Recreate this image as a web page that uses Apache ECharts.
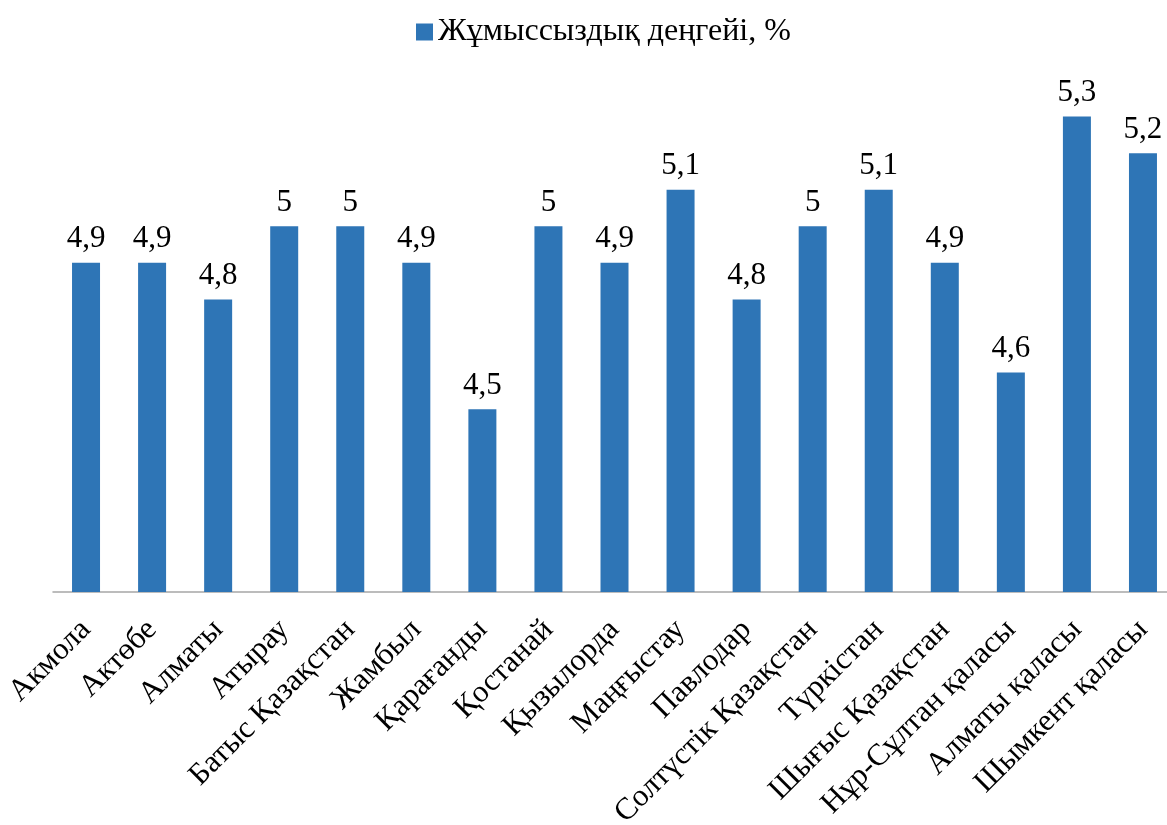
<!DOCTYPE html>
<html>
<head>
<meta charset="utf-8">
<script src="https://cdn.jsdelivr.net/npm/echarts@6/dist/echarts.min.js"></script>
<style>
  html, body { margin: 0; padding: 0; background: #fff; }
  #main { width: 1167px; height: 825px; }
</style>
</head>
<body>
<div id="main"></div>
<script>
const regions = [
  "Акмола", "Актөбе", "Алматы", "Атырау", "Батыс Қазақстан", "Жамбыл",
  "Қарағанды", "Қостанай", "Қызылорда", "Маңғыстау", "Павлодар",
  "Солтүстік Қазақстан", "Түркістан", "Шығыс Қазақстан",
  "Нұр-Сұлтан қаласы", "Алматы қаласы", "Шымкент қаласы"
];
const unemployment = [4.9, 4.9, 4.8, 5, 5, 4.9, 4.5, 5, 4.9, 5.1, 4.8, 5, 5.1, 4.9, 4.6, 5.3, 5.2];
const seriesName = "Жұмыссыздық деңгейі, %";

const font = "'Liberation Serif', 'Times New Roman', serif";
const chart = echarts.init(document.getElementById("main"));
chart.setOption({
  animation: false,
  legend: {
    data: [seriesName],
    icon: "rect",
    left: 411,
    top: 11,
    itemWidth: 17,
    itemHeight: 17,
    itemGap: 8,
    textStyle: { fontFamily: font, fontSize: 32, color: "#000" }
  },
  grid: {
    left: 53,
    width: 1123,
    top: 80,
    height: 512,
    containLabel: false,
    outerBoundsMode: "none"
  },
  xAxis: {
    type: "category",
    data: regions,
    axisLine: { lineStyle: { color: "#a6a6a6", width: 1.5 } },
    axisTick: { length: 9, lineStyle: { color: "#a6a6a6", width: 1.5 } },
    axisLabel: {
      interval: 0,
      rotate: 45,
      margin: 33,
      fontFamily: font,
      fontSize: 31,
      color: "#000"
    }
  },
  yAxis: {
    type: "value",
    min: 4,
    max: 5.4,
    show: false,
    splitLine: { show: false }
  },
  series: [
    {
      name: seriesName,
      type: "bar",
      data: unemployment,
      barWidth: 28,
      itemStyle: { color: "#2e75b6" },
      label: {
        show: true,
        position: "top",
        distance: 8,
        fontFamily: font,
        fontSize: 31,
        color: "#000",
        formatter: (p) => String(p.value).replace(".", ",")
      }
    }
  ]
});
</script>
</body>
</html>
